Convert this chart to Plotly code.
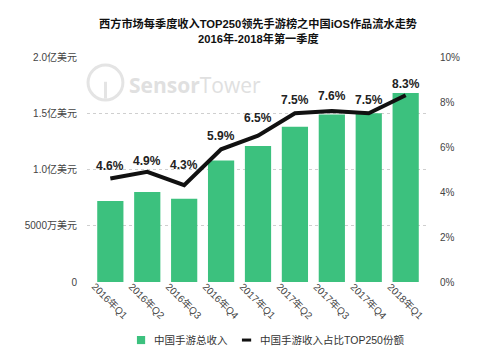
import plotly.graph_objects as go

categories = ["2016年Q1", "2016年Q2", "2016年Q3", "2016年Q4", "2017年Q1",
              "2017年Q2", "2017年Q3", "2017年Q4", "2018年Q1"]
revenue_yi = [0.72, 0.80, 0.74, 1.08, 1.21, 1.38, 1.49, 1.50, 1.68]
share_pct = [4.6, 4.9, 4.3, 5.9, 6.5, 7.5, 7.6, 7.5, 8.3]
left_tickvals = [0, 0.5, 1.0, 1.5, 2.0]
left_ticktext = ["0", "5000万美元", "1.0亿美元", "1.5亿美元", "2.0亿美元"]
right_tickvals = [0, 2, 4, 6, 8, 10]
right_ticktext = ["0%", "2%", "4%", "6%", "8%", "10%"]
series_names = ["中国手游总收入", "中国手游收入占比TOP250份额"]
title_lines = ["西方市场每季度收入TOP250领先手游榜之中国iOS作品流水走势", "2016年-2018年第一季度"]

# style: vertical pixel offsets of the percentage labels above the line points
label_yshift = [13, 11, 20, 13, 18, 13, 15, 13, 11]

FONT = "Liberation Sans, Noto Sans CJK SC, sans-serif"
GREEN = "#3CC17E"

fig = go.Figure()
fig.add_trace(go.Bar(
    x=categories, y=revenue_yi, name=series_names[0],
    marker=dict(color=GREEN, line=dict(width=0)),
    width=0.71, yaxis="y", showlegend=False,
))
fig.add_trace(go.Scatter(
    x=categories, y=share_pct, name=series_names[1],
    mode="lines", yaxis="y2", showlegend=False,
    line=dict(color="#111111", width=4),
))

# percentage labels
for c, v, s in zip(categories, share_pct, label_yshift):
    fig.add_annotation(x=c, y=v, xref="x", yref="y2", text=f"<b>{v}%</b>",
                       showarrow=False, yshift=s, yanchor="middle",
                       font=dict(family=FONT, size=12, color="#222222"))

# rotated category labels
for c in categories:
    fig.add_annotation(x=c, y=0, xref="x", yref="y", text=c, showarrow=False,
                       textangle=45, yshift=-19, xanchor="center", yanchor="middle",
                       font=dict(family=FONT, size=10, color="#444444"))

# faint SensorTower watermark
fig.add_shape(type="circle", xref="paper", yref="paper",
              x0=0.003, x1=0.105, y0=0.809, y1=0.964,
              line=dict(color="#e4e4e4", width=3))
fig.add_shape(type="path", xref="paper", yref="paper",
              path="M 0.035,0.86 A 0.02 0.03 0 1 1 0.073,0.86",
              line=dict(color="#e4e4e4", width=3))
fig.add_shape(type="line", xref="paper", yref="paper",
              x0=0.054, x1=0.054, y0=0.815, y1=0.89,
              line=dict(color="#e4e4e4", width=3))
fig.add_annotation(x=0.117, y=0.876, xref="paper", yref="paper",
                   text="<b>Sensor</b>Tower", showarrow=False, xanchor="left", yanchor="middle",
                   font=dict(family="Open Sans, sans-serif", size=21, color="#e0e0e0"))

# title
fig.add_annotation(x=0.5, y=1.151, xref="paper", yref="paper", text=f"<b>{title_lines[0]}</b>",
                   showarrow=False, xanchor="center", yanchor="middle",
                   font=dict(family=FONT, size=11.2, color="#111111"))
fig.add_annotation(x=0.5, y=1.08, xref="paper", yref="paper", text=f"<b>{title_lines[1]}</b>",
                   showarrow=False, xanchor="center", yanchor="middle",
                   font=dict(family=FONT, size=11.2, color="#111111"))

# manual legend
fig.add_shape(type="rect", xref="paper", yref="paper",
              x0=0.146, x1=0.170, y0=-0.276, y1=-0.240,
              fillcolor=GREEN, line=dict(width=0))
fig.add_annotation(x=0.190, y=-0.258, xref="paper", yref="paper", text=series_names[0],
                   showarrow=False, xanchor="left", yanchor="middle",
                   font=dict(family=FONT, size=10.5, color="#333333"))
fig.add_shape(type="line", xref="paper", yref="paper",
              x0=0.453, x1=0.480, y0=-0.258, y1=-0.258,
              line=dict(color="#111111", width=3))
fig.add_annotation(x=0.500, y=-0.258, xref="paper", yref="paper", text=series_names[1],
                   showarrow=False, xanchor="left", yanchor="middle",
                   font=dict(family=FONT, size=10.5, color="#333333"))

fig.update_layout(
    width=500, height=353,
    margin=dict(l=87, r=71, t=57, b=71, autoexpand=False),
    paper_bgcolor="white", plot_bgcolor="white",
    font=dict(family=FONT, size=10, color="#333333"),
    showlegend=False,
    hovermode=False,
    xaxis=dict(showticklabels=False, showgrid=False, showline=False, ticks=""),
    yaxis=dict(range=[0, 2.0], tickvals=left_tickvals, ticktext=left_ticktext,
               showgrid=True, gridcolor="#cfcfcf", griddash="dot", gridwidth=1,
               zeroline=False, showline=False, ticks="", ticklabelstandoff=9,
               tickfont=dict(size=10, color="#444444")),
    yaxis2=dict(range=[0, 10], tickvals=right_tickvals, ticktext=right_ticktext,
                overlaying="y", side="right", showgrid=False, zeroline=False,
                showline=False, ticks="", ticklabelstandoff=10,
                tickfont=dict(size=10, color="#444444")),
)
fig.write_html("out.html")
